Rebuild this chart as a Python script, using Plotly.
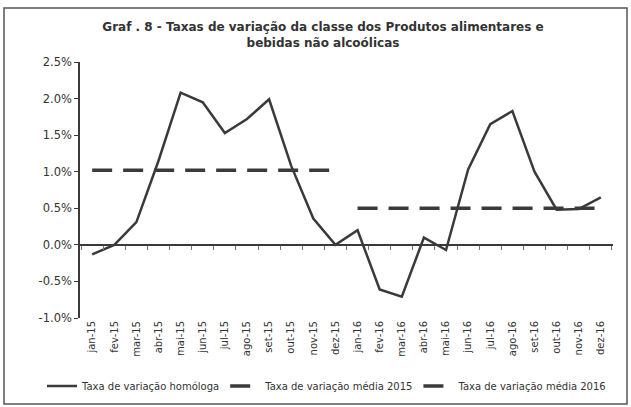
import plotly.graph_objects as go

months = ["jan-15", "fev-15", "mar-15", "abr-15", "mai-15", "jun-15", "jul-15", "ago-15",
          "set-15", "out-15", "nov-15", "dez-15", "jan-16", "fev-16", "mar-16", "abr-16",
          "mai-16", "jun-16", "jul-16", "ago-16", "set-16", "out-16", "nov-16", "dez-16"]
homologa = [-0.13, 0.0, 0.31, 1.15, 2.08, 1.95, 1.53, 1.72, 1.99, 1.08, 0.36, 0.0,
            0.2, -0.61, -0.71, 0.1, -0.07, 1.03, 1.65, 1.83, 1.0, 0.48, 0.49, 0.65]
months_2015 = months[:12]
media_2015 = [1.02] * 12
months_2016 = months[12:]
media_2016 = [0.5] * 12
y_ticks = [-1.0, -0.5, 0.0, 0.5, 1.0, 1.5, 2.0, 2.5]
y_min, y_max = -1.0, 2.5

col = "#3a3a3a"
font = "DejaVu Sans"

fig = go.Figure()
# invisible helper trace so the zero-line axis (xaxis2) gets its category ticks
fig.add_trace(go.Scatter(x=months, y=homologa, mode="lines", xaxis="x2", showlegend=False,
                         hoverinfo="skip", line=dict(width=0, color="rgba(0,0,0,0)")))
fig.add_trace(go.Scatter(x=months, y=homologa, mode="lines", name="Taxa de variação homóloga",
                         line=dict(color=col, width=2.5)))
fig.add_trace(go.Scatter(x=months_2015, y=media_2015, mode="lines", name="Taxa de variação média 2015",
                         line=dict(color=col, width=3.5, dash="20px,11px")))
fig.add_trace(go.Scatter(x=months_2016, y=media_2016, mode="lines", name="Taxa de variação média 2016",
                         line=dict(color=col, width=3.5, dash="20px,11px")))

L, R, T, B = 80, 18, 62, 89
W, H = 631, 407
pw, ph = W - L - R, H - T - B

def px(x):
    return (x - L) / pw

def py(y):
    return (H - B - y) / ph

fig.update_layout(
    width=W, height=H,
    margin=dict(l=L, r=R, t=T, b=B, autoexpand=False),
    paper_bgcolor="white", plot_bgcolor="white",
    font=dict(family=font, color="#222"),
    title=dict(text="<b>Graf . 8 - Taxas de variação da classe dos Produtos alimentares e<br>bebidas não alcoólicas</b>",
               x=323 / W, xanchor="center", xref="container", y=1 - 31 / H, yanchor="top",
               font=dict(size=12, family=font, color="#333")),
    showlegend=True,
    legend=dict(orientation="h", x=px(42), xanchor="left", y=py(386), yanchor="middle",
                font=dict(size=10, family=font, color="#333"), itemwidth=30,
                bgcolor="rgba(0,0,0,0)"),
    xaxis=dict(type="category", categoryorder="array", categoryarray=months,
               range=[-0.55, 23.55], tickangle=-90, tickfont=dict(size=10, family=font, color="#333"),
               showgrid=False, showline=False, zeroline=False, ticks=""),
    xaxis2=dict(type="category", categoryorder="array", categoryarray=months,
                range=[-0.55, 23.55], overlaying="x", anchor="free",
                position=(0 - y_min) / (y_max - y_min),
                showticklabels=False, showgrid=False, zeroline=False,
                showline=True, linecolor=col, linewidth=1.5,
                ticks="outside", tickson="boundaries", ticklen=4, tickcolor="#777", tickwidth=1),
    yaxis=dict(range=[y_min, y_max], tickvals=y_ticks, ticktext=[f"{v:.1f}%" for v in y_ticks],
               tickfont=dict(size=11.5, family=font, color="#333"),
               showgrid=False, showline=True, linecolor=col, linewidth=1.5,
               ticks="outside", ticklen=4, tickcolor=col, zeroline=False),
    shapes=[dict(type="rect", xref="paper", yref="paper",
                 x0=px(4), x1=px(627), y0=py(404), y1=py(8),
                 line=dict(color="#555", width=1.5))],
)

fig.write_html("out.html", config={"displayModeBar": False},
               post_script="document.body.style.margin='0';")
